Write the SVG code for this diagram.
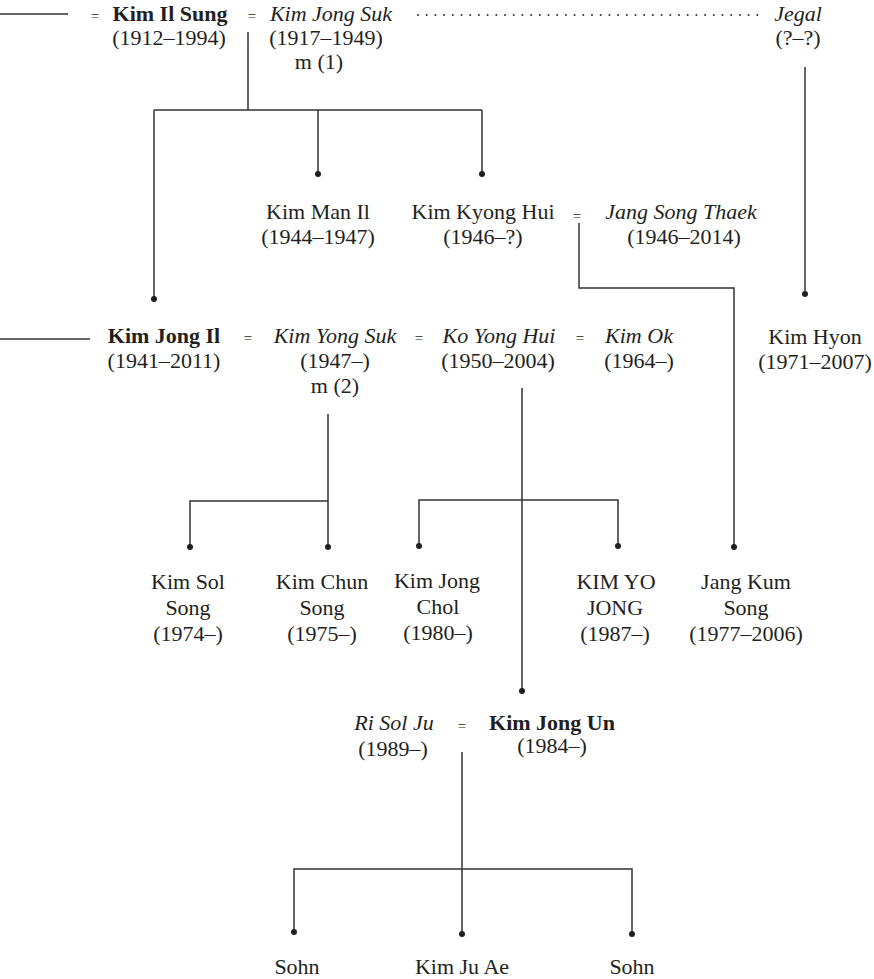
<svg xmlns="http://www.w3.org/2000/svg" width="874" height="979" viewBox="0 0 874 979">
<defs>
<style>
text{font-family:"Liberation Serif","Times New Roman",serif;font-size:22px;fill:#231f20;text-anchor:middle}
.b{font-weight:bold}
.i{font-style:italic}
.eq{font-size:15px}
.ln{fill:none;stroke:#333;stroke-width:1.5}
.dt{fill:none;stroke:#333;stroke-width:2;stroke-linecap:round;stroke-dasharray:0 8.7}
.dot{fill:#231f20}
</style>
</defs>
<rect width="874" height="979" fill="#fff"/>
<g id="connectors">
<path class="ln" d="M0 14H68"/>
<path class="dt" d="M418 15H763"/>
<path class="ln" d="M248 32V110M154 110H482M154 110V299M318 110V174M482 110V174"/>
<path class="ln" d="M805 67V294"/>
<path class="ln" d="M579 223V288H734V547"/>
<path class="ln" d="M0 339H90"/>
<path class="ln" d="M328 414V501H190V547M328 501V547"/>
<path class="ln" d="M522 388V691M419 546V500H618V546"/>
<path class="ln" d="M462 752V934M294 932V869H632V934"/>
<g class="dot">
<circle cx="154" cy="299" r="3"/><circle cx="318" cy="174" r="3"/><circle cx="482" cy="174" r="3"/>
<circle cx="805" cy="294" r="3"/><circle cx="734" cy="547" r="3"/>
<circle cx="190" cy="547" r="3"/><circle cx="328" cy="547" r="3"/>
<circle cx="419" cy="546" r="3"/><circle cx="618" cy="546" r="3"/>
<circle cx="522" cy="691" r="3"/>
<circle cx="294" cy="932" r="3"/><circle cx="462" cy="934" r="3"/><circle cx="632" cy="934" r="3"/>
</g>
</g>
<g id="marriage-signs">
<text class="eq" x="95" y="21">=</text>
<text class="eq" x="252" y="21">=</text>
<text class="eq" x="577" y="221">=</text>
<text class="eq" x="248" y="343">=</text>
<text class="eq" x="419" y="343">=</text>
<text class="eq" x="580" y="343">=</text>
<text class="eq" x="462" y="731">=</text>
</g>
<g id="kim-il-sung"><text class="b" x="170" y="21">Kim Il Sung</text><text x="169" y="45">(1912–1994)</text></g>
<g id="kim-jong-suk"><text class="i" x="331" y="21">Kim Jong Suk</text><text x="326" y="45">(1917–1949)</text><text x="319" y="69">m (1)</text></g>
<g id="jegal"><text class="i" x="798" y="21">Jegal</text><text x="798" y="45">(?–?)</text></g>
<g id="kim-man-il"><text x="318" y="219">Kim Man Il</text><text x="318" y="244">(1944–1947)</text></g>
<g id="kim-kyong-hui"><text x="483" y="219">Kim Kyong Hui</text><text x="483" y="244">(1946–?)</text></g>
<g id="jang-song-thaek"><text class="i" x="681" y="219">Jang Song Thaek</text><text x="684" y="244">(1946–2014)</text></g>
<g id="kim-jong-il"><text class="b" x="164" y="343">Kim Jong Il</text><text x="164" y="368">(1941–2011)</text></g>
<g id="kim-yong-suk"><text class="i" x="335" y="343">Kim Yong Suk</text><text x="335" y="368">(1947–)</text><text x="335" y="393">m (2)</text></g>
<g id="ko-yong-hui"><text class="i" x="499" y="343">Ko Yong Hui</text><text x="498" y="368">(1950–2004)</text></g>
<g id="kim-ok"><text class="i" x="639" y="343">Kim Ok</text><text x="639" y="368">(1964–)</text></g>
<g id="kim-hyon"><text x="815" y="344">Kim Hyon</text><text x="815" y="369">(1971–2007)</text></g>
<g id="kim-sol-song"><text x="188" y="589">Kim Sol</text><text x="188" y="615">Song</text><text x="188" y="641">(1974–)</text></g>
<g id="kim-chun-song"><text x="322" y="589">Kim Chun</text><text x="322" y="615">Song</text><text x="322" y="641">(1975–)</text></g>
<g id="kim-jong-chol"><text x="437" y="588">Kim Jong</text><text x="438" y="614">Chol</text><text x="438" y="640">(1980–)</text></g>
<g id="kim-yo-jong"><text x="616" y="589">KIM YO</text><text x="615" y="615">JONG</text><text x="615" y="641">(1987–)</text></g>
<g id="jang-kum-song"><text x="746" y="589">Jang Kum</text><text x="746" y="615">Song</text><text x="746" y="641">(1977–2006)</text></g>
<g id="ri-sol-ju"><text class="i" x="394" y="730">Ri Sol Ju</text><text x="393" y="756">(1989–)</text></g>
<g id="kim-jong-un"><text class="b" x="552" y="730">Kim Jong Un</text><text x="552" y="753">(1984–)</text></g>
<g id="sohn-1"><text x="297" y="974">Sohn</text></g>
<g id="kim-ju-ae"><text x="462" y="974">Kim Ju Ae</text></g>
<g id="sohn-2"><text x="632" y="974">Sohn</text></g>
</svg>
